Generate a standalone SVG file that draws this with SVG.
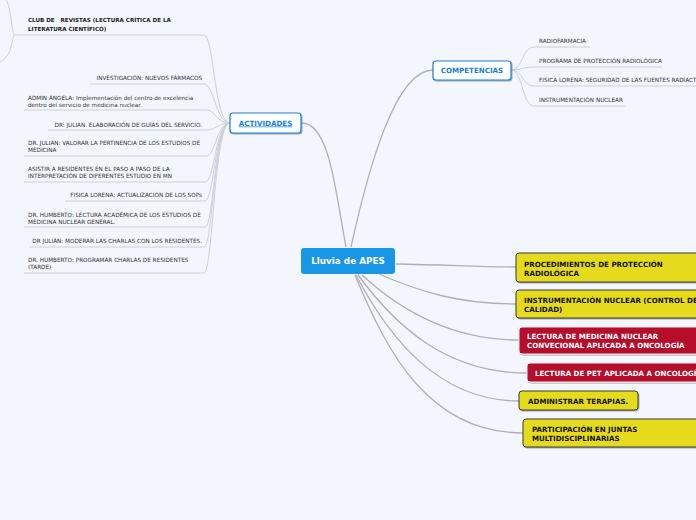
<svg xmlns="http://www.w3.org/2000/svg" width="696" height="520" viewBox="0 0 696 520">
<defs>
<filter id="sh" x="-10%" y="-20%" width="130%" height="160%"><feDropShadow dx="0.8" dy="1" stdDeviation="0.6" flood-color="#000" flood-opacity="0.35"/></filter>
</defs>
<style>
.bg{fill:#f4f6fd}
.main{fill:none;stroke:#b0b0b4;stroke-width:1.3}
.sub{fill:none;stroke:#cfd0d6;stroke-width:1}
.sm{font-family:"DejaVu Sans",Verdana,sans-serif;font-size:5.7px;fill:#333}
.smb{font-family:"DejaVu Sans",Verdana,sans-serif;font-size:5.6px;font-weight:bold;fill:#222;white-space:pre}
.nb{font-family:"DejaVu Sans",Verdana,sans-serif;font-size:7.1px;font-weight:bold}
.yel{fill:#e6da1d;stroke:#3a3a3a;stroke-width:1}
.red{fill:#b50c2c;stroke:#f0f0f0;stroke-width:1}
.wht{fill:#fff;stroke:#1a7fd8;stroke-width:1.2}
</style>
<rect class="bg" x="0" y="0" width="696" height="520"/>
<g id="connectors">
<path class="main" d="M346,247 C 336,195 330,123 302,123"/>
<path class="main" d="M351,247 C 368,170 395,70 433,70"/>
<path class="main" d="M396,264 C 450,265 480,267 516,267"/>
<path class="main" d="M379,274 C 420,292 460,304 516,304"/>
<path class="main" d="M362,275 C 400,310 450,340 519,340"/>
<path class="main" d="M358,275 C 395,325 445,373 527,373"/>
<path class="main" d="M356,275 C 390,340 440,401 519,401"/>
<path class="main" d="M355,275 C 388,355 430,433 523,433"/>
<path class="sub" d="M230,123 C 214,123 214,35 204,35 L15,35"/>
<path class="sub" d="M15,35 C 11,35 12,5 4,-4"/>
<path class="sub" d="M15,35 C 11,35 14,55 0,62"/>
<path class="sub" d="M230,123 C 216,123 214,84 204,84 L90,84"/>
<path class="sub" d="M230,123 C 216,123 216,110 206,110 L24,110"/>
<path class="sub" d="M230,123 C 218,123 216,130 206,130 L48,130"/>
<path class="sub" d="M230,123 C 216,123 216,156 206,156 L24,156"/>
<path class="sub" d="M230,123 C 215,123 215,182 205,182 L24,182"/>
<path class="sub" d="M230,123 C 215,123 214,201 205,201 L65,201"/>
<path class="sub" d="M230,123 C 214,123 214,227 205,227 L24,227"/>
<path class="sub" d="M230,123 C 214,123 213,247 204,247 L29,247"/>
<path class="sub" d="M230,123 C 214,123 213,273 204,273 L24,273"/>
<path class="sub" d="M511,70 C 523,70 522,47 534,47 L590,47"/>
<path class="sub" d="M511,70 C 523,70 522,67 534,67 L662,67"/>
<path class="sub" d="M511,70 C 523,70 522,86 534,86 L696,86"/>
<path class="sub" d="M511,70 C 523,70 522,106 534,106 L626,106"/>
</g>
<g id="root">
<rect x="301" y="248" width="94" height="26" rx="3" fill="#1a96e6"/>
<text x="348" y="264.2" text-anchor="middle" font-family="'DejaVu Sans',Verdana,sans-serif" font-size="8.8" font-weight="bold" fill="#fff">Lluvia de APES</text>
</g>
<g id="actividades">
<rect class="wht" x="230" y="113" width="71" height="20" rx="3" filter="url(#sh)"/>
<text class="nb" x="265.5" y="125.5" text-anchor="middle" fill="#1a7fd8" text-decoration="underline">ACTIVIDADES</text>
</g>
<g id="competencias">
<rect class="wht" x="433" y="61" width="78" height="19" rx="3" filter="url(#sh)"/>
<text class="nb" x="472" y="73" text-anchor="middle" fill="#1a7fd8">COMPETENCIAS</text>
</g>
<g id="act1"><text class="smb" x="28" y="22" xml:space="preserve">CLUB DE   REVISTAS (LECTURA CRÍTICA DE LA</text><text class="smb" x="28" y="31">LITERATURA CIENTÍFICO)</text></g>
<g id="act2"><text class="sm" x="202" y="80" text-anchor="end">INVESTIGACIÓN: NUEVOS FÁRMACOS</text></g>
<g id="act3"><text class="sm" x="28" y="100">ADMIN ÁNGELA: Implementación del centro de excelencia</text><text class="sm" x="28" y="107">dentro del servicio de medicina nuclear.</text></g>
<g id="act4"><text class="sm" x="202" y="127" text-anchor="end">DR: JULIAN. ELABORACIÓN DE GUÍAS DEL SERVICIO.</text></g>
<g id="act5"><text class="sm" x="28" y="145">DR. JULIAN: VALORAR LA PERTINENCIA DE LOS ESTUDIOS DE</text><text class="sm" x="28" y="152">MEDICINA</text></g>
<g id="act6"><text class="sm" x="28" y="171">ASISTIR A RESIDENTES EN EL PASO A PASO DE LA</text><text class="sm" x="28" y="178">INTERPRETACIÓN DE DIFERENTES ESTUDIO EN MN</text></g>
<g id="act7"><text class="sm" x="202" y="197" text-anchor="end">FISICA LORENA: ACTUALIZACIÓN DE LOS SOPs</text></g>
<g id="act8"><text class="sm" x="28" y="217">DR. HUMBERTO: LECTURA ACADÉMICA DE LOS ESTUDIOS DE</text><text class="sm" x="28" y="223.5">MEDICINA NUCLEAR GENERAL.</text></g>
<g id="act9"><text class="sm" x="202" y="243" text-anchor="end">DR JULIÁN: MODERAR LAS CHARLAS CON LOS RESIDENTES.</text></g>
<g id="act10"><text class="sm" x="28" y="262">DR. HUMBERTO: PROGRAMAR CHARLAS DE RESIDENTES</text><text class="sm" x="28" y="269">(TARDE)</text></g>
<g id="comp1"><text class="sm" x="539" y="43">RADIOFARMACIA</text></g>
<g id="comp2"><text class="sm" x="539" y="63">PROGRAMA DE PROTECCIÓN RADIOLÓGICA</text></g>
<g id="comp3"><text class="sm" x="539" y="82">FISICA LORENA: SEGURIDAD DE LAS FUENTES RADIACTIVAS</text></g>
<g id="comp4"><text class="sm" x="539" y="102">INSTRUMENTACIÓN NUCLEAR</text></g>
<g id="n1"><rect class="yel" x="516" y="253" width="200" height="29" rx="3" filter="url(#sh)"/><text class="nb" x="524" y="266.5" fill="#111">PROCEDIMIENTOS DE PROTECCIÓN</text><text class="nb" x="524" y="275.5" fill="#111">RADIOLÓGICA</text></g>
<g id="n2"><rect class="yel" x="516" y="290" width="200" height="28" rx="3" filter="url(#sh)"/><text class="nb" x="524" y="302.5" fill="#111">INSTRUMENTACIÓN NUCLEAR (CONTROL DE</text><text class="nb" x="524" y="311.5" fill="#111">CALIDAD)</text></g>
<g id="n3"><rect class="red" x="519" y="327" width="200" height="27" rx="3" filter="url(#sh)"/><text class="nb" x="527" y="338.5" fill="#fff">LECTURA DE MEDICINA NUCLEAR</text><text class="nb" x="527" y="347.5" fill="#fff">CONVECIONAL APLICADA A ONCOLOGÍA</text></g>
<g id="n4"><rect class="red" x="527" y="363" width="200" height="19" rx="3" filter="url(#sh)"/><text class="nb" x="535" y="375.5" fill="#fff">LECTURA DE PET APLICADA A ONCOLOGÍA</text></g>
<g id="n5"><rect class="yel" x="519" y="391" width="119" height="19" rx="3" filter="url(#sh)"/><text class="nb" x="528" y="403.5" fill="#111">ADMINISTRAR TERAPIAS.</text></g>
<g id="n6"><rect class="yel" x="523" y="419" width="200" height="28" rx="3" filter="url(#sh)"/><text class="nb" x="532" y="431.5" fill="#111">PARTICIPACIÓN EN JUNTAS</text><text class="nb" x="532" y="440.5" fill="#111">MULTIDISCIPLINARIAS</text></g>
</svg>
